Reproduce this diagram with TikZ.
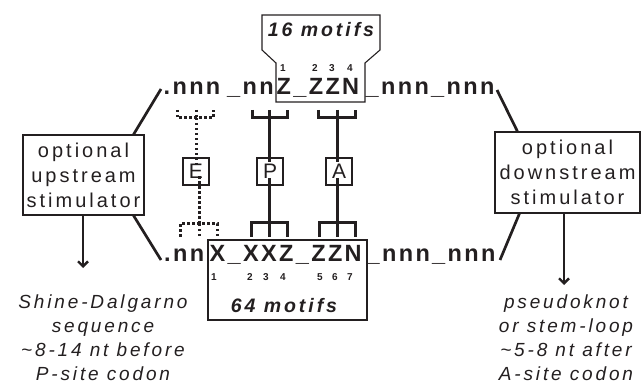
\documentclass[tikz,border=0pt]{standalone}
\usepackage{fontspec}
\setmainfont{Liberation Sans}
\newfontfamily\seqf[LetterSpace=10]{Liberation Sans}
\newfontfamily\labf[LetterSpace=15]{Liberation Sans}
\usetikzlibrary{arrows.meta}
\definecolor{ink}{HTML}{231F20}
\begin{document}
\begin{tikzpicture}[x=1pt,y=-1pt,color=ink,
  seq/.style={inner sep=0,anchor=base west,font=\seqf\bfseries\fontsize{23.5}{23.5}\selectfont},
  num/.style={inner sep=0,font=\bfseries\fontsize{10}{10}\selectfont},
  motif/.style={inner sep=0,font=\labf\bfseries\itshape\fontsize{19.5}{19.5}\selectfont},
  stimbox/.style={draw,line width=1.1pt,align=center,inner sep=0,font=\labf\fontsize{20}{25}\selectfont},
  note/.style={align=center,inner sep=0,font=\labf\itshape\fontsize{19}{24}\selectfont},
  site/.style={draw,line width=1.1pt,minimum width=26,minimum height=27,inner sep=0,font=\fontsize{21}{21}\selectfont},
  thk/.style={line width=3pt},
  dts/.style={line width=3pt,dash pattern=on 2.5pt off 2.5pt},
  diag/.style={line width=2.7pt},
  arr/.style={line width=2.8pt,-{Straight Barb[length=5pt,width=10pt,line width=2.4pt]}},
  frame/.style={line width=1.1pt}
]
\useasboundingbox (0,0) rectangle (642,387);

% top motif frame
\draw[frame] (262,15) -- (380,15) -- (380,50) -- (365,63) -- (365,102) -- (276,102) -- (276,63) -- (262,50) -- cycle;
\node[motif] (m16) at (321,30) {16 motifs};
% bottom motif frame
\draw[frame] (208,240) rectangle (367,320);
\node[motif] (m64) at (284,306) {64 motifs};

% top sequence
\node[seq] (t1) at (163.5,95) {.nnn};
\node[seq] (t2) at (227,95) {\_nn};
\node[seq] (t3) at (276.5,95) {Z\_ZZN};
\node[seq] (t4) at (365.5,95) {\_nnn\_nnn};
% bottom sequence
\node[seq] (b1) at (164,261.5) {.nn};
\node[seq] (b2) at (209.5,261.5) {X\_XXZ\_ZZN};
\node[seq] (b3) at (366.5,261.5) {\_nnn\_nnn};

% numbers
\node[num] at (283,68.5) {1};
\node[num] at (315,68.5) {2};
\node[num] at (332,68.5) {3};
\node[num] at (350,68.5) {4};
\node[num] at (214,277.5) {1};
\node[num] at (250,277.5) {2};
\node[num] at (266,277.5) {3};
\node[num] at (283,277.5) {4};
\node[num] at (320,277.5) {5};
\node[num] at (335,277.5) {6};
\node[num] at (350,277.5) {7};

% site boxes
\node[site] (E) at (196,171.5) {E};
\node[site] (P) at (270,171.5) {P};
\node[site] (A) at (339,171.5) {A};

% top brackets
\draw[dts] (177,110) -- (177,118) -- (213,118) -- (213,110) (196,110) -- (196,118);
\coordinate (etop) at (196,118);
\draw[dts] (etop) -- ([yshift=-8]E.north -| etop);
\draw[thk] (252,110) -- (252,118) -- (287,118) -- (287,110) (269,110) -- (269,118);
\coordinate (ptop) at (269,118);
\draw[thk] (ptop) -- ([yshift=-5]P.north -| ptop);
\draw[thk] (318,110) -- (318,118) -- (355,118) -- (355,110) (337,110) -- (337,118);
\coordinate (atop) at (337,118);
\draw[thk] (atop) -- ([yshift=-5]A.north -| atop);

% bottom brackets
\draw[dts] (180,237) -- (180,224) -- (217,224) -- (217,237) (199,224) -- (199,237);
\coordinate (ebot) at (199,224);
\draw[dts] (ebot) -- ([yshift=10]E.south -| ebot);
\draw[thk] (251,237) -- (251,223) -- (287,223) -- (287,237) (269,223) -- (269,237);
\coordinate (pbot) at (269,223);
\draw[thk] (pbot) -- ([yshift=8]P.south -| pbot);
\draw[thk] (319,237) -- (319,223) -- (355,223) -- (355,237) (337,223) -- (337,237);
\coordinate (abot) at (337,223);
\draw[thk] (abot) -- ([yshift=8]A.south -| abot);

% stimulator boxes
\node[stimbox,minimum width=121,minimum height=80] (up) at (83.5,175) {optional\\upstream\\stimulator};
\node[stimbox,minimum width=145,minimum height=81] (down) at (567.5,172.5) {optional\\downstream\\stimulator};

% diagonal connectors
\coordinate (tl) at (161,89);
\coordinate (bl) at (161,260);
\coordinate (tr) at (497,90);
\coordinate (br) at (500,260);
\draw[diag] (tl) -- ([xshift=-11]up.north east);
\draw[diag] (bl) -- ([xshift=-11]up.south east);
\draw[diag] (tr) -- ([xshift=23]down.north west);
\draw[diag] (br) -- ([xshift=25]down.south west);

% notes
\node[note] (sd) at (103,338) {Shine-Dalgarno\\sequence\\\textasciitilde8-14 nt before\\P-site codon};
\node[note] (pk) at (566,338) {pseudoknot\\or stem-loop\\\textasciitilde5-8 nt after\\A-site codon};
\coordinate (sdt) at (83,268);
\coordinate (pkt) at (564,285);
\draw[arr] (up.south -| sdt) -- (sdt);
\draw[arr] (down.south -| pkt) -- (pkt);
\end{tikzpicture}
\end{document}
